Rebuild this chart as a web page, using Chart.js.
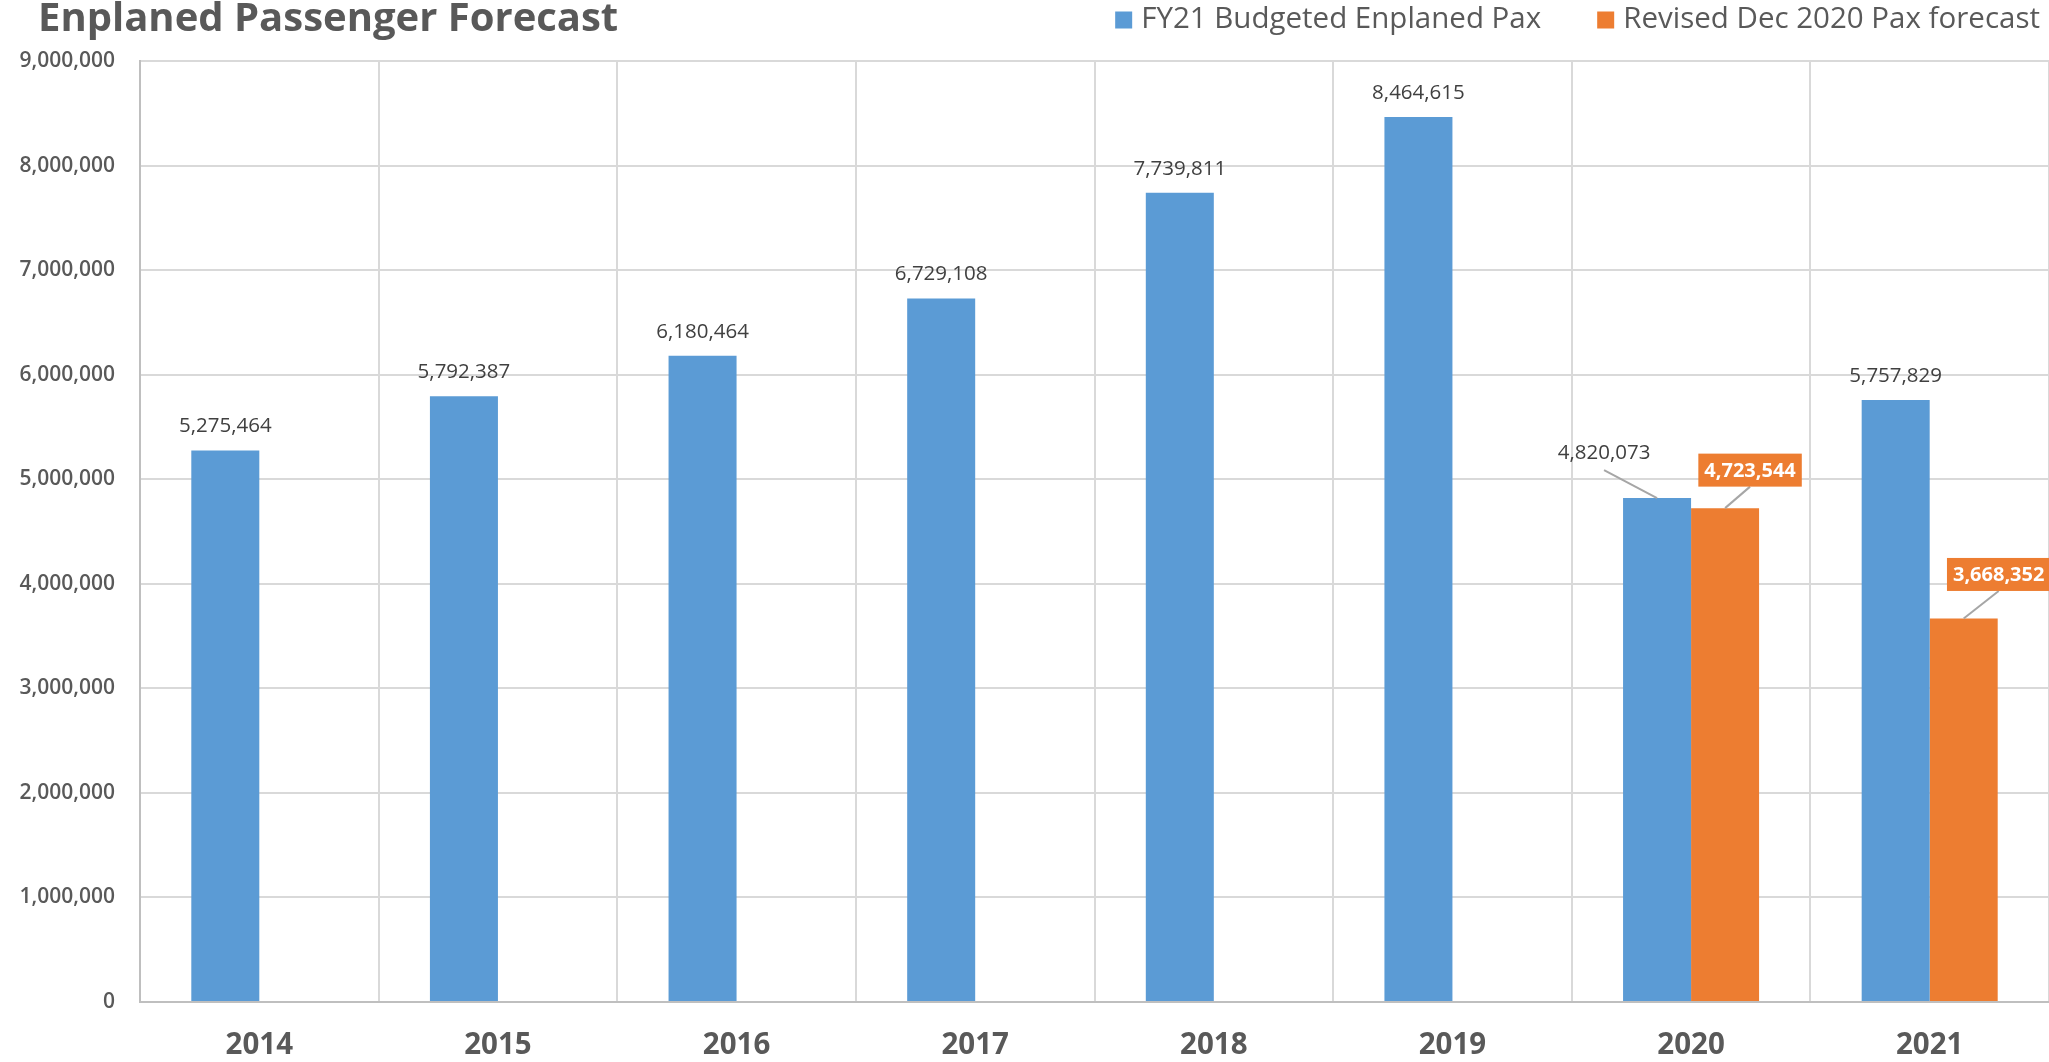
<!DOCTYPE html>
<html>
<head>
<meta charset="utf-8">
<title>Enplaned Passenger Forecast</title>
<script src="https://cdn.jsdelivr.net/npm/chart.js@4/dist/chart.umd.min.js"></script>
<style>
  html, body {margin: 0; padding: 0; background: #fff;}
  #wrap {width: 2049px; height: 1062px; position: relative;}
</style>
</head>
<body>
<div id="wrap"><canvas id="visual"></canvas></div>
<script>
const years = ['2014', '2015', '2016', '2017', '2018', '2019', '2020', '2021'];
const budgetedPax = [5275464, 5792387, 6180464, 6729108, 7739811, 8464615,
  4820073, 5757829];
const revisedPax = [null, null, null, null, null, null, 4723544, 3668352];
const yMax = 9000000;
const yStep = 1000000;

const TEXT = '#595959';
const FONT = '"Open Sans", "Noto Sans", sans-serif';
const fmt = (v) => v.toLocaleString('en-US');

// title and legend share the top band, so both are drawn here
const header = {
  id: 'header',
  afterDraw(chart) {
    const ctx = chart.ctx;
    ctx.save();
    ctx.fillStyle = TEXT;
    ctx.font = 'bold 40px ' + FONT;
    ctx.textBaseline = 'alphabetic';
    ctx.textAlign = 'left';
    ctx.fillText('Enplaned Passenger Forecast', 38, 31);

    ctx.font = '29.5px ' + FONT;
    ctx.textBaseline = 'middle';
    const items = chart.data.datasets.map((ds) => ({
      label: ds.label, color: ds.backgroundColor,
      w: ctx.measureText(ds.label).width,
    }));
    const box = 17;
    const gap = 9;
    const spacing = 56;
    let x = 2040;
    for (let i = items.length - 1; i >= 0; i--) {
      x -= items[i].w + gap + box;
      items[i].x = x;
      x -= spacing;
    }
    items.forEach((it) => {
      ctx.fillStyle = it.color;
      ctx.fillRect(it.x, 20 - box / 2, box, box);
      ctx.fillStyle = TEXT;
      ctx.fillText(it.label, it.x + box + gap, 20);
    });
    ctx.restore();
  },
};

const barLabels = {
  id: 'barLabels',
  afterDatasetsDraw(chart, args, opts) {
    const ctx = chart.ctx;
    ctx.save();
    ctx.textAlign = 'center';
    ctx.textBaseline = 'middle';
    chart.data.datasets.forEach((ds, di) => {
      chart.getDatasetMeta(di).data.forEach((bar, i) => {
        const v = ds.data[i];
        if (v === null || v === undefined) return;
        const c = opts.callouts[di + '-' + i];
        const text = fmt(v);
        if (!c) {
          ctx.font = '20.5px ' + FONT;
          ctx.fillStyle = '#404040';
          ctx.fillText(text, bar.x, bar.y - 24);
          return;
        }
        const lx = bar.x + c.dx;
        const ly = bar.y + c.dy;
        ctx.strokeStyle = '#a6a6a6';
        ctx.lineWidth = 2;
        if (c.box) {
          ctx.font = 'bold 20px ' + FONT;
          const w = ctx.measureText(text).width + 12;
          const h = 33;
          ctx.beginPath();
          ctx.moveTo(lx, ly + h / 2);
          ctx.lineTo(bar.x, bar.y);
          ctx.stroke();
          ctx.fillStyle = ds.backgroundColor;
          ctx.fillRect(lx - w / 2, ly - h / 2, w, h);
          ctx.fillStyle = '#fff';
          ctx.fillText(text, lx, ly + 1);
        } else {
          ctx.font = '20.5px ' + FONT;
          ctx.beginPath();
          ctx.moveTo(lx, ly + 17);
          ctx.lineTo(bar.x, bar.y);
          ctx.stroke();
          ctx.fillStyle = '#404040';
          ctx.fillText(text, lx, ly);
        }
      });
    });
    ctx.restore();
  },
};

new Chart('visual', {
  type: 'bar',
  data: {
    labels: years,
    datasets: [
      {label: 'FY21 Budgeted Enplaned Pax', data: budgetedPax,
        backgroundColor: '#5b9bd5'},
      {label: 'Revised Dec 2020 Pax forecast', data: revisedPax,
        backgroundColor: '#ed7d31'},
    ],
  },
  plugins: [header, barLabels],
  options: {
    responsive: true,
    maintainAspectRatio: false,
    animation: false,
    categoryPercentage: 0.57,
    barPercentage: 1.0,
    layout: {padding: {top: 61, right: 0, left: 0, bottom: 0}},
    plugins: {
      legend: {display: false},
      title: {display: false},
      tooltip: {enabled: false},
      barLabels: {
        callouts: {
          '0-6': {dx: -53, dy: -45},
          '1-6': {dx: 25, dy: -38, box: true},
          '1-7': {dx: 35, dy: -44, box: true},
        },
      },
    },
    scales: {
      x: {
        grid: {color: '#d9d9d9', lineWidth: 2, drawTicks: false},
        border: {color: '#bfbfbf', width: 2},
        ticks: {color: TEXT, padding: 26,
          font: {family: FONT, size: 29.5, weight: 'bold'}},
        afterFit: (scale) => { scale.height = 60; },
      },
      y: {
        min: 0,
        max: yMax,
        grid: {color: '#d9d9d9', lineWidth: 2, drawTicks: false},
        border: {color: '#bfbfbf', width: 2},
        ticks: {stepSize: yStep, color: TEXT, padding: 25,
          font: {family: FONT, size: 21, weight: '600'},
          callback: (v) => fmt(v)},
        afterFit: (scale) => { scale.width = 140; },
      },
    },
  },
});
</script>
</body>
</html>
